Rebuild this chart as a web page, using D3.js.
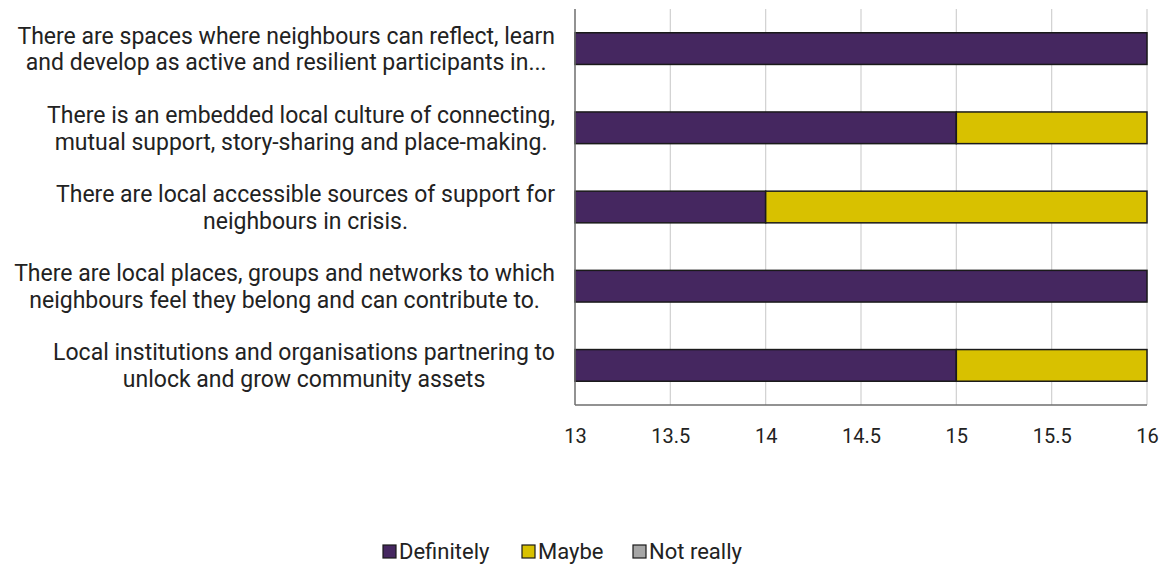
<!DOCTYPE html>
<html>
<head>
<meta charset="utf-8">
<script src="https://d3js.org/d3.v7.min.js"></script>
<style>
  body { margin: 0; background: #fff; }
  svg text { font-family: Roboto, "Noto Sans", sans-serif; fill: #222; }
</style>
</head>
<body>
<div id="chart"></div>
<script>
// Chart data
const categories = [
    ['There are spaces where neighbours can reflect, learn', 'and develop as active and resilient participants in...'],
    ['There is an embedded local culture of connecting,', 'mutual support, story-sharing and place-making.'],
    ['There are local accessible sources of support for', 'neighbours in crisis.'],
    ['There are local places, groups and networks to which', 'neighbours feel they belong and can contribute to.'],
    ['Local institutions and organisations partnering to', 'unlock and grow community assets']
];
const seriesNames = ['Definitely', 'Maybe', 'Not really'];
const definitely = [16, 15, 14, 16, 15];
const maybe = [0, 1, 2, 0, 1];
const notReally = [0, 0, 0, 0, 0];
const xTicks = [13, 13.5, 14, 14.5, 15, 15.5, 16];
const colors = ['#452760', '#d8c100', '#a6a6a6'];

const W = 1168, H = 566;
const margin = { top: 9, right: 21, bottom: 161, left: 575 };
const width = W - margin.left - margin.right;
const height = H - margin.top - margin.bottom;

const svg = d3.select('#chart')
    .append('svg')
    .attr('width', W)
    .attr('height', H);

const g = svg.append('g')
    .attr('transform', `translate(${margin.left},${margin.top})`);

const rows = categories.map((c, i) => ({
    idx: i,
    'Definitely': definitely[i],
    'Maybe': maybe[i],
    'Not really': notReally[i]
}));

const stacked = d3.stack().keys(seriesNames)(rows);

const x = d3.scaleLinear()
    .domain([xTicks[0], xTicks[xTicks.length - 1]])
    .range([0, width])
    .clamp(true);

const y = d3.scaleBand()
    .domain(categories.map((c, i) => i))
    .range([0, height])
    .paddingInner(0.6)
    .paddingOuter(0.3);

// Grid lines
g.append('g')
    .selectAll('line')
    .data(xTicks.slice(1))
    .enter()
    .append('line')
    .attr('x1', d => x(d))
    .attr('x2', d => x(d))
    .attr('y1', 0)
    .attr('y2', height)
    .attr('stroke', '#d0d0d0')
    .attr('stroke-width', 1.2);

// Bars
stacked.forEach((s, si) => {
    g.append('g')
        .selectAll('rect')
        .data(s.filter(d => d[1] - d[0] > 0))
        .enter()
        .append('rect')
        .attr('x', d => x(d[0]))
        .attr('y', d => y(d.data.idx))
        .attr('width', d => x(d[1]) - x(d[0]))
        .attr('height', y.bandwidth())
        .attr('fill', colors[si])
        .attr('stroke', '#1a1a1a')
        .attr('stroke-width', 1.5);
});

// Axes lines
g.append('line')
    .attr('x1', 0).attr('x2', 0)
    .attr('y1', 0).attr('y2', height)
    .attr('stroke', '#6e6e6e')
    .attr('stroke-width', 1.5);

g.append('line')
    .attr('x1', 0).attr('x2', width)
    .attr('y1', height).attr('y2', height)
    .attr('stroke', '#6e6e6e')
    .attr('stroke-width', 1.5);

// X tick labels
const xAxis = g.append('g')
    .attr('transform', `translate(0,${height})`)
    .call(d3.axisBottom(x).tickValues(xTicks).tickSize(0).tickPadding(24).tickFormat(d3.format('')));
xAxis.select('.domain').remove();
xAxis.selectAll('text')
    .style('font-size', '20px')
    .attr('fill', '#222');

// Category labels: lines centred within a block that is right-aligned to the axis
const labelRight = -20;
const labels = g.append('g')
    .selectAll('text')
    .data(categories)
    .enter()
    .append('text')
    .attr('text-anchor', 'middle')
    .attr('y', (d, i) => y(i) + y.bandwidth() / 2)
    .style('font-size', '23px');

labels.selectAll('tspan')
    .data(d => d)
    .enter()
    .append('tspan')
    .attr('dy', (d, i) => i === 0 ? '-0.22em' : '1.17em')
    .text(d => d);

labels.each(function() {
    const spans = d3.select(this).selectAll('tspan').nodes();
    const maxW = d3.max(spans, n => n.getComputedTextLength());
    d3.select(this).selectAll('tspan').attr('x', labelRight - maxW / 2);
});

// Legend
const legend = svg.append('g')
    .attr('transform', 'translate(383,551)');
const legendX = [0, 139, 250];
seriesNames.forEach((name, i) => {
    const item = legend.append('g').attr('transform', `translate(${legendX[i]},0)`);
    item.append('rect')
        .attr('x', 0).attr('y', -6)
        .attr('width', 13).attr('height', 13)
        .attr('fill', colors[i])
        .attr('stroke', '#1a1a1a')
        .attr('stroke-width', 1.2);
    item.append('text')
        .attr('x', 16)
        .attr('y', 0)
        .attr('dy', '0.35em')
        .style('font-size', '22px')
        .text(name);
});
</script>
</body>
</html>
